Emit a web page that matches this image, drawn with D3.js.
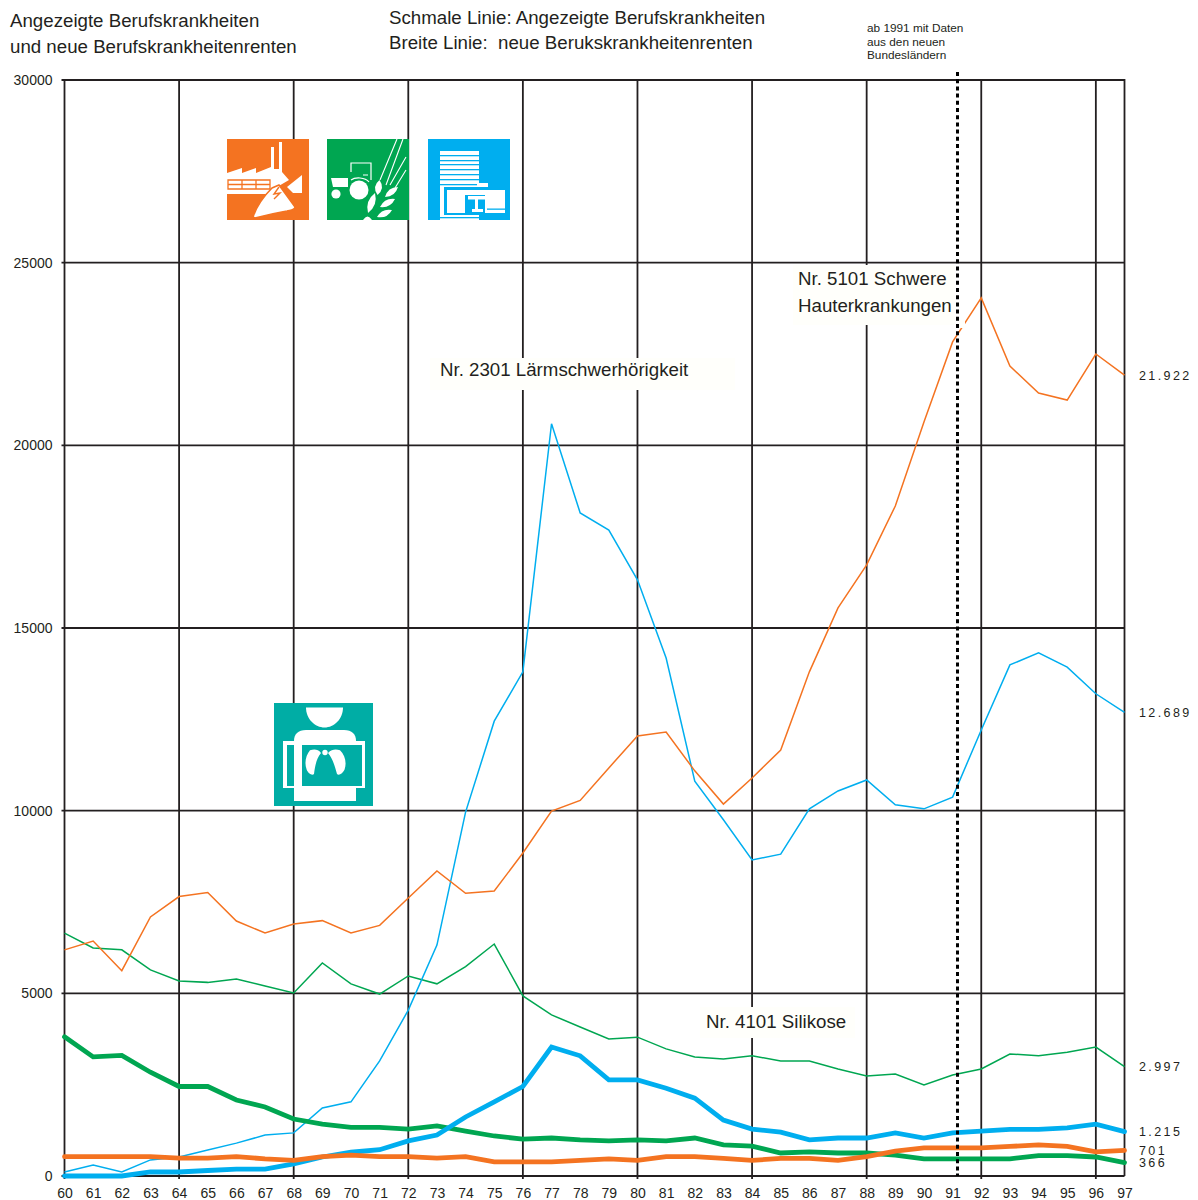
<!DOCTYPE html>
<html>
<head>
<meta charset="utf-8">
<script src="https://d3js.org/d3.v7.min.js"></script>
<style>
  body { margin: 0; background: #fff; }
  svg { display: block; font-family: "Liberation Sans", Arial, sans-serif; }
  text { fill: #231f20; }
  .domain { display: none; }
  .grid line { stroke: #231f20; stroke-width: 1.8; }
  .end-label { font-size: 12.5px; letter-spacing: 2.4px; }
</style>
</head>
<body>
<svg id="chart" width="1198" height="1200"></svg>
<script>
const years = d3.range(60, 98);
const majorYears = [60, 64, 68, 72, 76, 80, 84, 88, 92, 96, 97];
const yTicks = [0, 5000, 10000, 15000, 20000, 25000, 30000];

// thin lines: reported cases
const thinOrange = [6190, 6430, 5620, 7090, 7650, 7760, 6980, 6650, 6900, 6990, 6650, 6860, 7610, 8350, 7740, 7800, 8840, 9990, 10280, 11170, 12045, 12150, 11090, 10180, 10895, 11660, 13800, 15550, 16730, 18340, 20640, 22830, 24035, 22170, 21430, 21240, 22500, 21922];
const thinBlue = [110, 300, 110, 440, 520, 710, 900, 1120, 1180, 1860, 2030, 3150, 4540, 6320, 9960, 12450, 13800, 20590, 18150, 17680, 16320, 14180, 10810, 9750, 8650, 8810, 10050, 10540, 10840, 10160, 10050, 10370, 12210, 13990, 14320, 13930, 13200, 12689];
const thinGreen = [6650, 6240, 6190, 5640, 5340, 5300, 5390, 5200, 5010, 5830, 5260, 4980, 5475, 5260, 5730, 6350, 4930, 4410, 4080, 3750, 3800, 3480, 3260, 3200, 3290, 3150, 3150, 2930, 2740, 2790, 2490, 2765, 2930, 3340, 3290, 3390, 3530, 2997];

// thick lines: new pensions
const thickGreen = [3810, 3260, 3300, 2840, 2450, 2450, 2080, 1890, 1560, 1420, 1330, 1330, 1285, 1370, 1230, 1095, 1010, 1040, 990, 960, 990, 960, 1040, 850, 820, 630, 660, 630, 630, 570, 470, 470, 470, 470, 560, 560, 520, 366];
const thickBlue = [0, 0, 0, 110, 110, 150, 190, 190, 330, 520, 650, 720, 960, 1120, 1615, 2030, 2450, 3530, 3290, 2630, 2630, 2400, 2130, 1530, 1285, 1200, 990, 1040, 1040, 1180, 1040, 1180, 1230, 1275, 1275, 1320, 1420, 1215];
const thickOrange = [530, 530, 530, 530, 490, 490, 530, 470, 430, 530, 570, 530, 530, 490, 530, 385, 385, 385, 430, 470, 430, 530, 530, 480, 430, 480, 480, 430, 530, 680, 770, 770, 770, 810, 850, 810, 660, 701];

const ORANGE = "#f47321", BLUE = "#00aeef", GREEN = "#00a651", TEAL = "#00ada5";
const PAPER = "#fffffb";

const svg = d3.select("#chart");

const x = d3.scaleLinear().domain([60, 97]).range([64.5, 1124.5]);
const y = d3.scaleLinear().domain([0, 30000]).range([1176, 80]);

// grid
svg.append("g").attr("class", "grid")
  .selectAll("line.h").data(yTicks).join("line")
  .attr("x1", x(60) - 3).attr("x2", x(97))
  .attr("y1", d => y(d)).attr("y2", d => y(d));
svg.select(".grid")
  .selectAll("line.v").data(majorYears, d => d).join("line")
  .attr("class", "v")
  .attr("x1", d => x(d)).attr("x2", d => x(d))
  .attr("y1", y(30000) - 1).attr("y2", d => d === 97 ? y(0) : y(0) + 3);

// axes
const yAxis = d3.axisLeft(y).tickValues(yTicks).tickSize(0).tickPadding(12).tickFormat(d3.format("d"));
svg.append("g").attr("class", "axis-label").attr("transform", `translate(${x(60)},0)`).call(yAxis);
const xAxis = d3.axisBottom(x).tickValues(years).tickSize(0).tickPadding(12).tickFormat(d => d);
svg.append("g").attr("class", "axis-label").attr("transform", `translate(0,${y(0)})`).call(xAxis);
svg.selectAll(".axis-label text").attr("font-family", null).style("font-size", "14px");

// paper boxes behind the annotations
const boxes = [[793, 265, 162, 60], [430, 358, 305, 32], [700, 1007, 155, 31]];
svg.append("g").selectAll("rect").data(boxes).join("rect")
  .attr("x", d => d[0]).attr("y", d => d[1]).attr("width", d => d[2]).attr("height", d => d[3])
  .attr("fill", PAPER);

const line = d3.line().x((d, i) => x(years[i])).y(d => y(d));
const series = [
  [thinGreen, GREEN, 1.5], [thinBlue, BLUE, 1.5], [thinOrange, ORANGE, 1.5],
  [thickGreen, GREEN, 4.8], [thickBlue, BLUE, 4.8], [thickOrange, ORANGE, 4.8]
];
svg.append("g").selectAll("path").data(series).join("path")
  .attr("d", d => line(d[0]))
  .attr("fill", "none")
  .attr("stroke", d => d[1])
  .attr("stroke-width", d => d[2])
  .attr("stroke-linejoin", "miter")
  .attr("stroke-linecap", d => d[2] > 2 ? "round" : "butt");

// the label box clips the thin orange line just right of the marker
svg.append("rect").attr("x", 959).attr("y", 320).attr("width", 6).attr("height", 8).attr("fill", PAPER);

// 1991 marker
svg.append("line")
  .attr("x1", 957.5).attr("x2", 957.5).attr("y1", 72).attr("y2", y(0))
  .attr("stroke", "#000").attr("stroke-width", 3).attr("stroke-dasharray", "4 3.2");

// titles and annotations
const labels = [
  ["Angezeigte Berufskrankheiten", 10, 27, 18.7],
  ["und neue Berufskrankheitenrenten", 10, 53, 18.7],
  ["Schmale Linie: Angezeigte Berufskrankheiten", 389, 24, 18.7],
  ["Breite Linie:  neue Berukskrankheitenrenten", 389, 49, 18.7],
  ["ab 1991 mit Daten", 867, 32, 11.8],
  ["aus den neuen", 867, 46, 11.8],
  ["Bundesländern", 867, 59, 11.8],
  ["Nr. 5101 Schwere", 798, 285, 18.7],
  ["Hauterkrankungen", 798, 312, 18.7],
  ["Nr. 2301 Lärmschwerhörigkeit", 440, 376, 18.7],
  ["Nr. 4101 Silikose", 706, 1028, 18.7]
];
svg.append("g").selectAll("text").data(labels).join("text")
  .attr("x", d => d[1]).attr("y", d => d[2]).style("font-size", d => d[3] + "px")
  .style("white-space", "pre").text(d => d[0]);

// values at the end of the lines
const endLabels = [["21.922", 21922], ["12.689", 12689], ["2.997", 2997], ["1.215", 1215], ["701", 701], ["366", 366]];
svg.append("g").selectAll("text").data(endLabels).join("text")
  .attr("class", "end-label")
  .attr("x", 1139).attr("y", d => y(d[1])).attr("dy", "0.36em").text(d => d[0]);

// icons
function icon(px, py, w, h, color) {
  const g = svg.append("g").attr("transform", `translate(${px},${py})`);
  g.append("rect").attr("width", w).attr("height", h).attr("fill", color);
  return g;
}
const white = g => g.append("path").attr("fill", "#fff");
// a grain of wheat between two points
const leaf = (a, b, w) => {
  const mx = (a[0] + b[0]) / 2, my = (a[1] + b[1]) / 2;
  const dx = b[0] - a[0], dy = b[1] - a[1], l = Math.hypot(dx, dy);
  const nx = -dy / l * w, ny = dx / l * w;
  return `M${a}Q${mx + nx} ${my + ny} ${b}Q${mx - nx} ${my - ny} ${a}Z`;
};

// factory and trowel
const i1 = icon(227, 139, 82, 81, ORANGE);
white(i1).attr("d", "M0 34L15 29V34L29 29V34L44 28V8H47V30H52V3H55V33L62 41L50 48L44 55H0Z");
white(i1).attr("d", "M60 48L75 36V54H66Z");
i1.append("path").attr("fill", "none").attr("stroke", ORANGE).attr("stroke-width", 1.3)
  .attr("d", "M1 41H43V50H1ZM1 45.5H43M15 41V50M29 41V50");
white(i1).attr("d", "M26 78C30 66 38 56 45 49L52 46L68 68C68 71 64 71 60 72C48 74 36 77 28 79Z")
  .attr("stroke", ORANGE).attr("stroke-width", 1.5);
i1.append("path").attr("fill", "none").attr("stroke", ORANGE).attr("stroke-width", 1.4)
  .attr("d", "M52 48L47 55L53 54L47 60");

// tractor and wheat
const i2 = icon(327, 139, 82, 81, GREEN);
i2.append("path").attr("fill", "none").attr("stroke", "#fff").attr("stroke-width", 1.2)
  .attr("d", "M24 33V24H44V41M36 36H41M24 41C28 38 38 38 42 43");
white(i2).attr("d", "M4 39H21V48H6Z");
i2.append("circle").attr("cx", 32).attr("cy", 51).attr("r", 9.5).attr("fill", "#fff");
i2.append("circle").attr("cx", 9).attr("cy", 55).attr("r", 4.6).attr("fill", "#fff");
i2.append("path").attr("fill", "none").attr("stroke", "#fff").attr("stroke-width", 1.1)
  .attr("d", "M53 41L70 0M59 46L76 0M63 46L79 18M68 49L79 31");
white(i2).attr("d", [
  leaf([52.5, 41], [50.5, 56], 7), leaf([58, 58], [71, 48], 6), leaf([41, 74], [48, 54], 7),
  leaf([53, 68], [68, 60], 6), leaf([50, 78], [65, 71], 6), leaf([36, 81], [45, 81], 7)
].join(""));

// office block and desk
const i3 = icon(428, 139, 82, 81, BLUE);
i3.append("rect").attr("x", 12).attr("y", 12).attr("width", 39).attr("height", 69).attr("fill", "#fff");
i3.selectAll("rect.stripe").data([16, 21, 25, 30, 35, 40, 45, 78]).join("rect")
  .attr("class", "stripe").attr("x", 12).attr("y", d => d).attr("width", 39).attr("height", 1.3).attr("fill", BLUE);
i3.append("rect").attr("x", 16).attr("y", 48).attr("width", 64).attr("height", 28).attr("fill", BLUE);
i3.selectAll("rect.tick").data([53, 58, 63, 68, 73]).join("rect")
  .attr("class", "tick").attr("x", 12).attr("y", d => d).attr("width", 4).attr("height", 3).attr("fill", "#fff");
white(i3).attr("d", "M49 44H60V48H49ZM19 51H77V74H19Z");
i3.append("rect").attr("x", 37).attr("y", 56).attr("width", 20).attr("height", 20).attr("fill", BLUE);
i3.append("rect").attr("x", 59).attr("y", 69.5).attr("width", 18).attr("height", 1.3).attr("fill", BLUE);
white(i3).attr("d", "M40 57H57V60.5H50V70H55V73H44V70H47V60.5H40Z");

// x-ray
const i4 = icon(274, 703, 99, 103, TEAL);
white(i4).attr("d", "M32 4.5H69C69 16 60 24.5 50.5 24.5C41 24.5 32 16 32 4.5Z");
white(i4).attr("d", "M20 98V38C20 31 24 27 32 27H70C78 27 82 31 82 38V98Z");
white(i4).attr("d", "M9 38H91V85H9ZM13 42V83H20V42Z");
i4.append("rect").attr("x", 28).attr("y", 42).attr("width", 60).attr("height", 41).attr("fill", TEAL);
white(i4).attr("d", "M36 47.3C40 46 44 46 47 50C42 56 41 64 40 71C38 73 34 70 32.7 66.7C30 60 32 52 36 47.3ZM66 47.3C62 46 58 46 54 50C59 56 61 64 63 71C65 73 69 70 70.5 66.7C73 60 71 52 66 47.3Z");
i4.append("circle").attr("cx", 51).attr("cy", 49.5).attr("r", 2.7).attr("fill", "#fff");
</script>
</body>
</html>
